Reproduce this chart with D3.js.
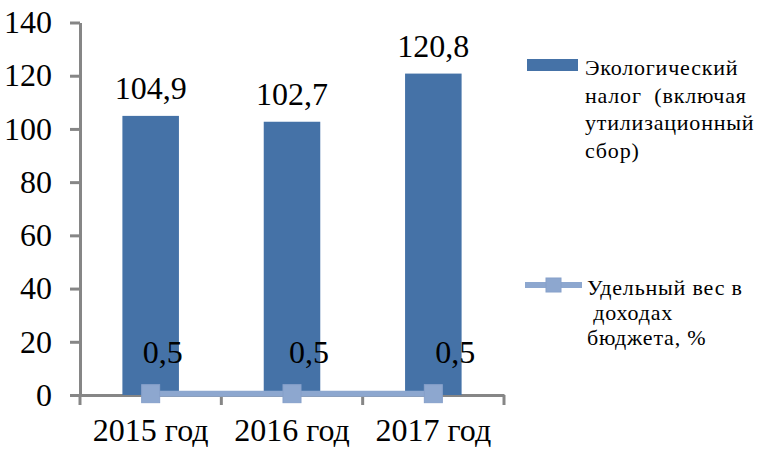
<!DOCTYPE html>
<html lang="ru">
<head>
    <meta charset="UTF-8">
    <title>Экологический налог</title>
    <script src="https://d3js.org/d3.v7.min.js"></script>
    <style>
        body {
            margin: 0;
            padding: 0;
            background: white;
        }
        svg {
            display: block;
        }
        svg text {
            font-family: 'Liberation Serif', 'Times New Roman', serif;
            fill: #000;
        }
        .axis path, .axis line {
            stroke: #868686;
            stroke-width: 3;
        }
        .axis text {
            font-size: 32px;
        }
    </style>
</head>
<body>
    <svg width="758" height="449"></svg>

    <script>
        // data
        const years = ["2015 год", "2016 год", "2017 год"];
        const taxValues = [104.9, 102.7, 120.8];
        const shareValues = [0.5, 0.5, 0.5];
        const yTicks = [0, 20, 40, 60, 80, 100, 120, 140];
        const legendTax = ["Экологический", "налог  (включая", "утилизационный", "сбор)"];
        const legendShare = ["Удельный вес в", " доходах", "бюджета, %"];

        const barColor = "#4572a7",
              lineColor = "#8da7cf";

        const svg = d3.select("svg");

        const x = d3.scaleBand().domain(years).range([80, 504]).padding(0);
        const y = d3.scaleLinear().domain([0, 140]).range([395, 22.5]);

        const fmt = v => String(v).replace(".", ",");

        // y axis
        svg.append("g")
            .attr("class", "axis")
            .attr("transform", "translate(80,0)")
            .call(d3.axisLeft(y).tickValues(yTicks).tickSize(10).tickSizeOuter(0).tickPadding(18).tickFormat(d => d));

        // x axis (labels centred in bands, ticks on band edges)
        const xAxis = svg.append("g")
            .attr("class", "axis")
            .attr("transform", "translate(0,395)")
            .call(d3.axisBottom(x).tickSize(0).tickSizeOuter(0).tickPadding(23));

        const edges = years.map(d => x(d)).concat([x.range()[1]]);
        xAxis.selectAll(".edge")
            .data(edges)
            .enter().append("line")
            .attr("class", "edge")
            .attr("x1", d => d).attr("x2", d => d)
            .attr("y1", 0).attr("y2", 10)
            .attr("stroke", "#868686")
            .attr("stroke-width", 3);

        // bars
        const barW = x.bandwidth() * 0.4;
        svg.selectAll(".bar")
            .data(taxValues)
            .enter().append("rect")
            .attr("class", "bar")
            .attr("x", (d, i) => x(years[i]) + x.bandwidth() / 2 - barW / 2)
            .attr("y", d => y(d))
            .attr("width", barW)
            .attr("height", d => y(0) - y(d))
            .attr("fill", barColor);

        svg.selectAll(".barLabel")
            .data(taxValues)
            .enter().append("text")
            .attr("x", (d, i) => x(years[i]) + x.bandwidth() / 2)
            .attr("y", d => y(d) - 17)
            .attr("text-anchor", "middle")
            .style("font-size", "32px")
            .text(fmt);

        // line series
        const cx = i => x(years[i]) + x.bandwidth() / 2;
        const line = d3.line()
            .x((d, i) => cx(i))
            .y(d => y(d));

        svg.append("path")
            .datum(shareValues)
            .attr("d", line)
            .attr("fill", "none")
            .attr("stroke", lineColor)
            .attr("stroke-width", 6);

        svg.selectAll(".marker")
            .data(shareValues)
            .enter().append("rect")
            .attr("class", "marker")
            .attr("x", (d, i) => cx(i) - 9)
            .attr("y", d => y(d) - 9)
            .attr("width", 18)
            .attr("height", 18)
            .attr("fill", lineColor)
            .attr("stroke", "#86a0ca")
            .attr("stroke-width", 1);

        svg.selectAll(".lineLabel")
            .data(shareValues)
            .enter().append("text")
            .attr("x", (d, i) => cx(i) + 12 + i * 5)
            .attr("y", d => y(d) - 31)
            .attr("text-anchor", "middle")
            .style("font-size", "32px")
            .text(fmt);

        // legend
        const leg = svg.append("g");

        leg.append("rect")
            .attr("x", 527).attr("y", 59)
            .attr("width", 51).attr("height", 12)
            .attr("fill", barColor);

        leg.append("text")
            .attr("x", 585).attr("y", 75)
            .style("font-size", "22px")
            .style("letter-spacing", "0.8px")
            .selectAll("tspan")
            .data(legendTax)
            .enter().append("tspan")
            .attr("x", 585)
            .attr("dy", (d, i) => i === 0 ? 0 : 27.5)
            .style("white-space", "pre")
            .text(d => d);

        leg.append("line")
            .attr("x1", 525).attr("x2", 582)
            .attr("y1", 285).attr("y2", 285)
            .attr("stroke", lineColor)
            .attr("stroke-width", 6);

        leg.append("rect")
            .attr("x", 546).attr("y", 278)
            .attr("width", 15).attr("height", 14)
            .attr("fill", lineColor)
            .attr("stroke", "#86a0ca");

        leg.append("text")
            .attr("x", 587).attr("y", 295)
            .style("font-size", "22px")
            .style("letter-spacing", "0.8px")
            .selectAll("tspan")
            .data(legendShare)
            .enter().append("tspan")
            .attr("x", 587)
            .attr("dy", (d, i) => i === 0 ? 0 : 25)
            .style("white-space", "pre")
            .text(d => d);
    </script>
</body>
</html>
